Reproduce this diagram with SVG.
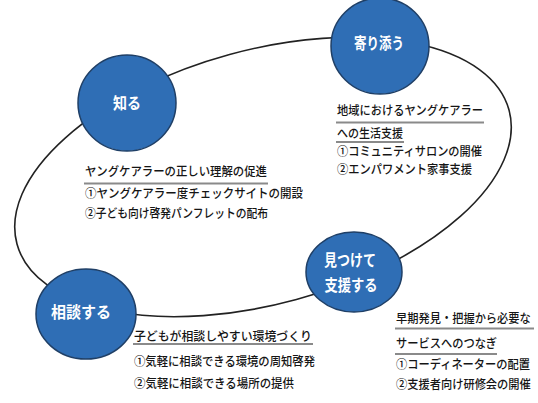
<svg xmlns="http://www.w3.org/2000/svg" width="538" height="403" viewBox="0 0 538 403">
<style>
.node{fill:#2F6EB5;stroke:#1F3F66;stroke-width:1.5}
.lbl{fill:#fff;font-family:"Noto Sans CJK JP","Noto Sans",sans-serif;font-weight:bold;font-size:16px;text-anchor:middle}
.t{fill:#151515;font-family:"Noto Sans CJK JP","Noto Sans",sans-serif;font-weight:500;font-size:12.5px}
.ul{stroke:#8a8a8a;stroke-width:2}
.conn{fill:none;stroke:#222;stroke-width:1.6}
</style>
<rect width="538" height="403" fill="#fff"/>
<g id="connectors">
<ellipse class="conn" cx="263" cy="177" rx="255" ry="127" transform="rotate(-15.25 263 177)"/>
</g>
<g id="node-shiru">
<ellipse class="node" cx="127" cy="103" rx="49" ry="48"/>
<text class="lbl" x="127" y="109" textLength="28" lengthAdjust="spacingAndGlyphs">知る</text>
</g>
<g id="node-yorisou">
<ellipse class="node" cx="380" cy="46" rx="49" ry="48"/>
<text class="lbl" x="379" y="49" textLength="50" lengthAdjust="spacingAndGlyphs">寄り添う</text>
</g>
<g id="node-soudan">
<ellipse class="node" cx="86" cy="314" rx="50" ry="45"/>
<text class="lbl" x="81" y="318" textLength="60" lengthAdjust="spacingAndGlyphs">相談する</text>
</g>
<g id="node-mitsukete">
<ellipse class="node" cx="354" cy="272" rx="48" ry="40"/>
<text class="lbl" x="350" y="266" textLength="52" lengthAdjust="spacingAndGlyphs">見つけて</text>
<text class="lbl" x="351" y="291" textLength="53" lengthAdjust="spacingAndGlyphs">支援する</text>
</g>
<g id="text-shiru">
<text class="t" x="85" y="176" textLength="182" lengthAdjust="spacingAndGlyphs">ヤングケアラーの正しい理解の促進</text>
<line class="ul" x1="84" y1="183.5" x2="268" y2="183.5"/>
<text class="t" x="85" y="198" textLength="218" lengthAdjust="spacingAndGlyphs">①ヤングケアラー度チェックサイトの開設</text>
<text class="t" x="85" y="218" textLength="183" lengthAdjust="spacingAndGlyphs">②子ども向け啓発パンフレットの配布</text>
</g>
<g id="text-yorisou">
<text class="t" x="337" y="115" textLength="146" lengthAdjust="spacingAndGlyphs">地域におけるヤングケアラー</text>
<line class="ul" x1="336" y1="122.5" x2="484" y2="122.5"/>
<text class="t" x="337" y="138" textLength="66" lengthAdjust="spacingAndGlyphs">への生活支援</text>
<line class="ul" x1="336" y1="142" x2="404" y2="142"/>
<text class="t" x="337" y="156" textLength="145" lengthAdjust="spacingAndGlyphs">①コミュニティサロンの開催</text>
<text class="t" x="337" y="174" textLength="135" lengthAdjust="spacingAndGlyphs">②エンパワメント家事支援</text>
</g>
<g id="text-soudan">
<text class="t" x="134" y="341" textLength="178" lengthAdjust="spacingAndGlyphs">子どもが相談しやすい環境づくり</text>
<line class="ul" x1="133" y1="344" x2="313" y2="344"/>
<text class="t" x="134" y="366" textLength="181" lengthAdjust="spacingAndGlyphs">①気軽に相談できる環境の周知啓発</text>
<text class="t" x="134" y="388" textLength="160" lengthAdjust="spacingAndGlyphs">②気軽に相談できる場所の提供</text>
</g>
<g id="text-mitsukete">
<line class="ul" x1="395" y1="328.5" x2="534" y2="328.5"/>
<line class="ul" x1="395" y1="354" x2="497" y2="354"/>
<g transform="translate(396 0) scale(0.9 1)">
<text class="t" x="0" y="323">早期発見・把握から必要な</text>
<text class="t" x="0" y="348">サービスへのつなぎ</text>
<text class="t" x="0" y="369">①コーディネーターの配置</text>
<text class="t" x="0" y="389">②支援者向け研修会の開催</text>
</g>
</g>
</svg>
